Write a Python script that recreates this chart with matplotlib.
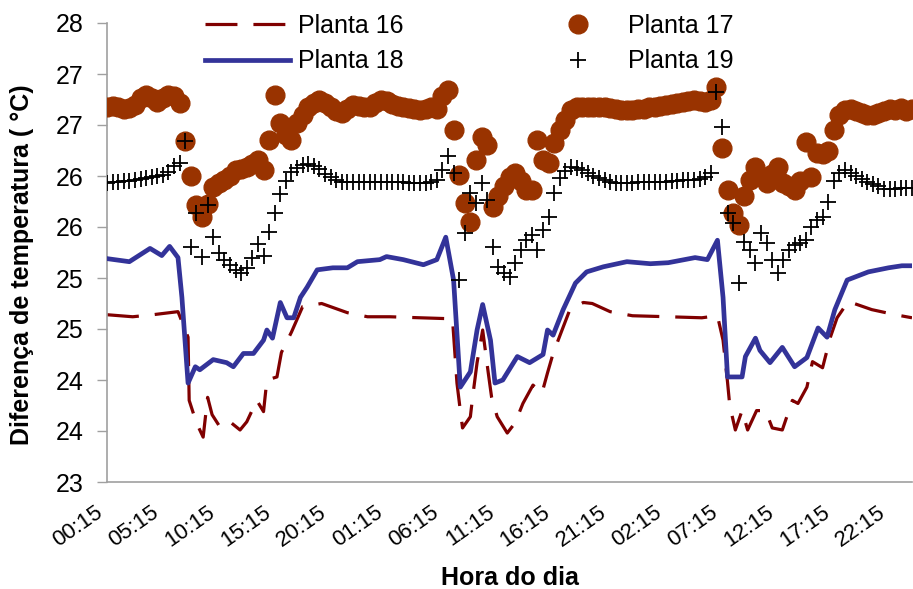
import numpy as np
import matplotlib
matplotlib.use("Agg")
import matplotlib.pyplot as plt

plt.rcParams['font.family'] = ['Liberation Sans', 'DejaVu Sans']

# ---- data ----
x_tick_hours = list(range(0, 71, 5))
x_tick_labels = ["00:15", "05:15", "10:15", "15:15", "20:15", "01:15", "06:15", "11:15",
                 "16:15", "21:15", "02:15", "07:15", "12:15", "17:15", "22:15"]
y_ticks = [23.0, 23.5, 24.0, 24.5, 25.0, 25.5, 26.0, 26.5, 27.0, 27.5]
y_tick_labels = ["23", "24", "24", "25", "25", "26", "26", "27", "27", "28"]

# Planta 16 (dashed)
t16 = [0, 2.3, 4.1, 6.35, 7.25, 7.35, 8.0, 8.6, 9.0, 9.4, 10.1, 11.0, 11.9, 12.5, 13.4, 14.0,
       14.3, 15.2, 15.6, 16.5, 17.5, 19.2, 21.5, 23.3, 25.3, 28.0, 30.9, 31.3, 31.6, 31.8,
       32.5, 32.7, 33.1, 33.6, 34.1, 34.4, 34.9, 35.8, 36.5, 37.2, 38.1, 38.9, 39.4, 39.9,
       40.7, 41.4, 42.6, 43.4, 45.0, 47.0, 50.2, 53.2, 54.6, 55.1, 55.5, 55.7, 56.2, 56.8,
       57.3, 58.1, 58.9, 59.5, 60.4, 61.3, 61.8, 62.6, 63.1, 64.0, 64.7, 65.3, 66.3, 68.4,
       70.5, 72]
v16 = [24.64, 24.62, 24.64, 24.67, 24.42, 23.8, 23.58, 23.44, 23.83, 23.66, 23.54, 23.59,
       23.51, 23.59, 23.8, 23.69, 24.0, 24.03, 24.27, 24.47, 24.72, 24.75, 24.66, 24.62,
       24.62, 24.61, 24.6, 23.97, 23.7, 23.53, 23.64, 23.83, 24.17, 24.49, 24.07, 23.83,
       23.64, 23.48, 23.58, 23.77, 23.95, 23.87, 24.07, 24.26, 24.49, 24.69, 24.76, 24.75,
       24.67, 24.63, 24.62, 24.61, 24.63, 24.39, 23.98, 23.75, 23.51, 23.7, 23.51, 23.7,
       23.7, 23.53, 23.51, 23.8, 23.77, 23.93, 24.18, 24.12, 24.42, 24.61, 24.77, 24.69,
       24.64, 24.61]

# Planta 18 (solid)
t18 = [0, 2, 3.85, 4.9, 5.6, 6.35, 6.7, 7.25, 7.9, 8.3, 9.5, 10.7, 11.3, 12.2, 13.1, 14.0,
       14.3, 14.8, 15.5, 16.1, 16.7, 17.3, 17.9, 18.8, 20.2, 21.5, 22.4, 24.4, 25.0, 26.5,
       28.3, 29.5, 30.3, 31.0, 31.6, 32.5, 33.1, 33.6, 34.3, 34.7, 35.4, 36.7, 37.8, 39.0,
       39.4, 39.9, 40.8, 41.9, 42.9, 44.4, 46.5, 48.6, 50.2, 52.6, 53.7, 54.6, 55.1, 55.5,
       56.8, 57.1, 58.0, 58.4, 59.3, 60.4, 61.5, 62.6, 63.6, 64.4, 65.1, 66.2, 68.1, 69.9,
       71.1, 72]
v18 = [25.19, 25.16, 25.29, 25.22, 25.31, 25.2, 24.81, 23.97, 24.13, 24.10, 24.2, 24.17,
       24.13, 24.26, 24.26, 24.39, 24.49, 24.41, 24.76, 24.61, 24.61, 24.81, 24.91, 25.08,
       25.1, 25.1, 25.16, 25.18, 25.21, 25.18, 25.13, 25.18, 25.4, 24.98, 23.93, 24.08,
       24.49, 24.74, 24.39, 23.97, 24.0, 24.23, 24.17, 24.25, 24.49, 24.44, 24.69, 24.95,
       25.06, 25.11, 25.16, 25.14, 25.15, 25.2, 25.18, 25.37, 24.81, 24.03, 24.03, 24.23,
       24.41, 24.29, 24.17, 24.32, 24.13, 24.22, 24.51, 24.42, 24.69, 24.98, 25.06, 25.1,
       25.12, 25.12]

# half-hour sample times for the marker series (0..72 h)
t_half = [i * 0.5 for i in range(145)]

# Planta 17 (circles)
v17 = [26.68, 26.69, 26.68, 26.66, 26.67, 26.70, 26.76, 26.79, 26.76, 26.73,
       26.76, 26.79, 26.78, 26.72, 26.34, 26.00, 25.72, 25.60, 25.73, 25.89,
       25.93, 25.96, 26.00, 26.06, 26.07, 26.09, 26.12, 26.16, 26.06, 26.35,
       26.79, 26.52, 26.40, 26.35, 26.52, 26.60, 26.68, 26.72, 26.75, 26.72,
       26.68, 26.64, 26.62, 26.66, 26.70, 26.69, 26.68, 26.68,
       26.72, 26.75, 26.74, 26.71, 26.69, 26.68, 26.67, 26.66, 26.65, 26.66,
       26.68, 26.66, 26.78, 26.84, 26.45, 26.01, 25.74, 25.55, 26.16, 26.38,
       26.30, 25.70, 25.80, 25.90, 25.99, 26.03, 25.95, 25.86, 25.86, 26.35,
       26.16, 26.13, 26.32, 26.45, 26.55, 26.65, 26.68, 26.68, 26.68, 26.68,
       26.68, 26.68, 26.67, 26.66, 26.65, 26.65, 26.65, 26.66,
       26.66, 26.68, 26.68, 26.69, 26.70, 26.71, 26.72, 26.73, 26.74, 26.75,
       26.74, 26.73, 26.75, 26.87, 26.27, 25.86, 25.64, 25.52, 25.80, 25.96,
       26.09, 26.00, 25.93, 26.02, 26.09, 25.93, 25.90, 25.86, 25.95, 26.33,
       25.99, 26.23, 26.22, 26.25, 26.45, 26.60, 26.65, 26.66, 26.64, 26.62,
       26.60, 26.60, 26.62, 26.64, 26.66, 26.65, 26.67, 26.64, 26.66]

# Planta 19 (plus)
v19 = [25.93, 25.94, 25.94, 25.95, 25.95, 25.96, 25.97, 25.98, 25.99, 26.00,
       26.01, 26.04, 26.10, 26.13, 26.34, 25.30, 25.64, 25.21, 25.72, 25.40,
       25.25, 25.18, 25.13, 25.08, 25.05, 25.10, 25.20, 25.33, 25.22, 25.45,
       25.64, 25.82, 25.95, 26.04, 26.08, 26.11, 26.12, 26.10, 26.07, 26.02,
       25.99, 25.96, 25.94, 25.94, 25.94, 25.94, 25.94, 25.94,
       25.94, 25.94, 25.94, 25.94, 25.94, 25.94, 25.93, 25.93, 25.93, 25.93,
       25.94, 25.96, 26.06, 26.20, 26.03, 24.98, 25.44, 25.83, 25.74, 25.93,
       25.76, 25.30, 25.11, 25.05, 25.01, 25.15, 25.27, 25.37, 25.42, 25.27,
       25.47, 25.60, 25.83, 25.98, 26.05, 26.09, 26.08, 26.06, 26.03, 26.00,
       25.98, 25.96, 25.94, 25.93, 25.93, 25.93, 25.93, 25.94,
       25.94, 25.94, 25.94, 25.94, 25.94, 25.95, 25.95, 25.96, 25.96, 25.96,
       25.97, 25.99, 26.03, 26.82, 26.48, 25.64, 25.54, 24.95, 25.35, 25.27,
       25.15, 25.44, 25.34, 25.18, 25.05, 25.18, 25.27, 25.32, 25.34, 25.37,
       25.50, 25.57, 25.60, 25.75, 25.95, 26.03, 26.06, 26.03, 26.00, 25.97,
       25.94, 25.92, 25.90, 25.87, 25.87, 25.87, 25.88, 25.88, 25.88]

# ---- figure ----
W, H = 913, 589
fig = plt.figure(figsize=(W / 100, H / 100), dpi=100)
ax = fig.add_axes([107 / W, 1 - 482 / H, (912 - 107) / W, (482 - 23) / H])

ax.plot(t16, v16, color="#800000", lw=2.3, dashes=(10, 5), label="Planta 16", zorder=2)
ax.plot(t_half, v17, ls="none", marker="o", ms=13.5, color="#993300", mec="#993300",
        label="Planta 17", zorder=3)
ax.plot(t18, v18, color="#333399", lw=3.4, label="Planta 18", zorder=4,
        solid_joinstyle="round")
ax.plot(t_half, v19, ls="none", marker="+", ms=12, mew=1.3, color="black",
        label="Planta 19", zorder=5)

ax.set_xlim(0, 72)
ax.set_ylim(23, 27.5)
ax.set_xticks(x_tick_hours)
ax.set_xticklabels(x_tick_labels, rotation=35, ha="right", va="top", fontsize=16)
ax.set_yticks(y_ticks)
ax.set_yticklabels(y_tick_labels, fontsize=18)
ax.tick_params(axis="x", length=0, pad=14)
ax.tick_params(axis="y", length=7, width=1, color="#a0a0a0", pad=10)

for s in ["top", "right"]:
    ax.spines[s].set_visible(False)
for s in ["left", "bottom"]:
    ax.spines[s].set_color("#a0a0a0")
    ax.spines[s].set_linewidth(1.2)

fig.text(510 / W, 1 - 578 / H, "Hora do dia", ha="center", va="center",
         fontsize=18, fontweight="bold")
fig.text(22 / W, 1 - 265 / H, "Diferença de temperatura ( °C)", ha="center",
         va="center", rotation=90, fontsize=18, fontweight="bold")

handles, labels = ax.get_legend_handles_labels()
order = [0, 2, 1, 3]
leg = fig.legend([handles[i] for i in order], [labels[i] for i in order],
                 loc="upper left", bbox_to_anchor=(205 / W, 1 - 14 / H), ncol=2,
                 frameon=False, fontsize=18, handlelength=3.4, handletextpad=0.3,
                 columnspacing=5.3, labelspacing=0.45, borderpad=0, borderaxespad=0)

fig.savefig("out.png", dpi=100)
